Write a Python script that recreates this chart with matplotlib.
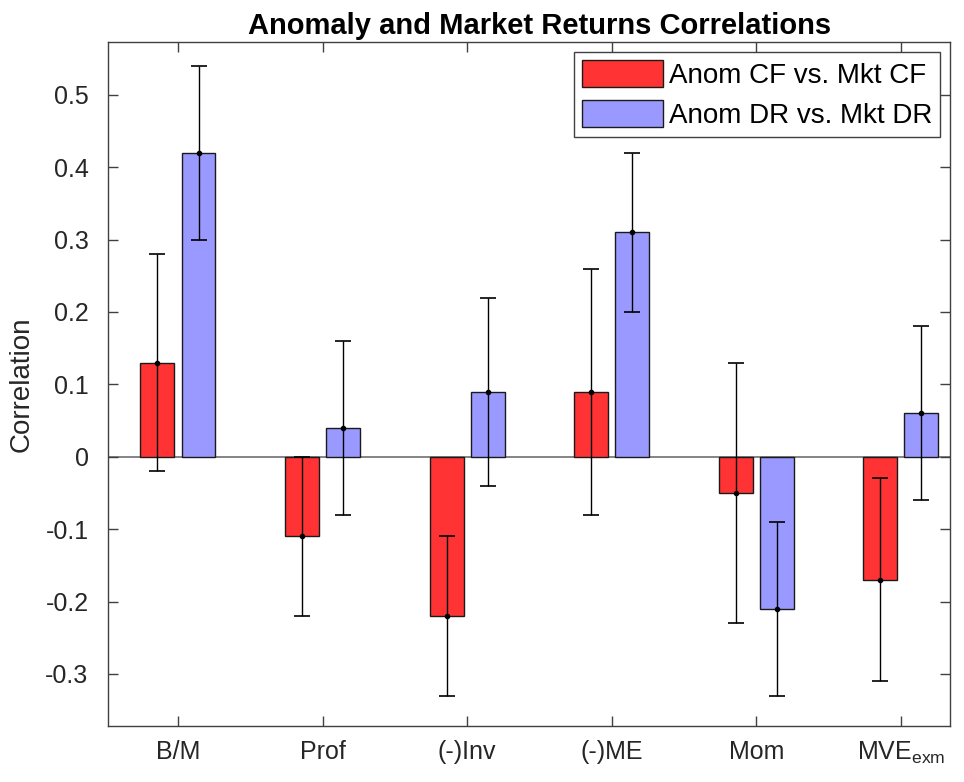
import numpy as np
import matplotlib
matplotlib.use('Agg')
import matplotlib.pyplot as plt

categories = ['B/M', 'Prof', '(-)Inv', '(-)ME', 'Mom', r'MVE$_{\mathregular{exm}}$']
cf_corr = [0.13, -0.11, -0.22, 0.09, -0.05, -0.17]
cf_err = [0.15, 0.11, 0.11, 0.17, 0.18, 0.14]
dr_corr = [0.42, 0.04, 0.09, 0.31, -0.21, 0.06]
dr_err = [0.12, 0.12, 0.13, 0.11, 0.12, 0.12]
labels = ['Anom CF vs. Mkt CF', 'Anom DR vs. Mkt DR']

plt.rcParams['font.family'] = ['Liberation Sans', 'DejaVu Sans']
fig = plt.figure(figsize=(9.64, 7.82), dpi=100)
ax = fig.add_axes([108 / 964, 56 / 782, 842 / 964, 684 / 782])

x = np.arange(1, len(categories) + 1)
off = 0.142
w = 0.235
axc = '#404040'
ax.axhline(0, color='#707070', lw=1.2, zorder=1)
ax.bar(x - off, cf_corr, w, color='#ff3333', edgecolor='#1a1a1a', lw=1, label=labels[0], zorder=2)
ax.bar(x + off, dr_corr, w, color='#9999ff', edgecolor='#1a1a1a', lw=1, label=labels[1], zorder=2)
ax.errorbar(x - off, cf_corr, yerr=cf_err, fmt='o', ms=3, color='black', ecolor='black',
            elinewidth=1, capsize=6, capthick=1.2, zorder=3)
ax.errorbar(x + off, dr_corr, yerr=dr_err, fmt='o', ms=3, color='black', ecolor='black',
            elinewidth=1, capsize=6, capthick=1.2, zorder=3)

ax.set_xlim(0.516, 6.34)
ax.set_ylim(-0.372, 0.573)
ax.set_xticks(x)
ax.set_xticklabels(categories, fontsize=18)
ax.tick_params(axis='x', pad=10)
ax.set_yticks(np.arange(-0.3, 0.51, 0.1))
ax.set_yticklabels(['-0.3', '-0.2', '-0.1', '0', '0.1', '0.2', '0.3', '0.4', '0.5'], fontsize=18)
ax.tick_params(direction='in', length=7, width=1, colors=axc, labelcolor='#262626',
               top=True, right=True)
ax.tick_params(axis='y', pad=14)
for s in ax.spines.values():
    s.set_color(axc)
    s.set_linewidth(1)
ax.set_ylabel('Correlation', fontsize=20, color='#262626', labelpad=8)
ax.set_title('Anomaly and Market Returns Correlations', fontsize=21, fontweight='bold',
             pad=6, x=0.513)

leg = ax.legend(loc='upper right', fontsize=20, handlelength=2.9, handleheight=1.1,
                fancybox=False, framealpha=1, edgecolor=axc, borderaxespad=0.35,
                borderpad=0.3, labelspacing=0.4, handletextpad=0.2)
leg.get_frame().set_linewidth(1)

fig.savefig('out.png', dpi=100)
